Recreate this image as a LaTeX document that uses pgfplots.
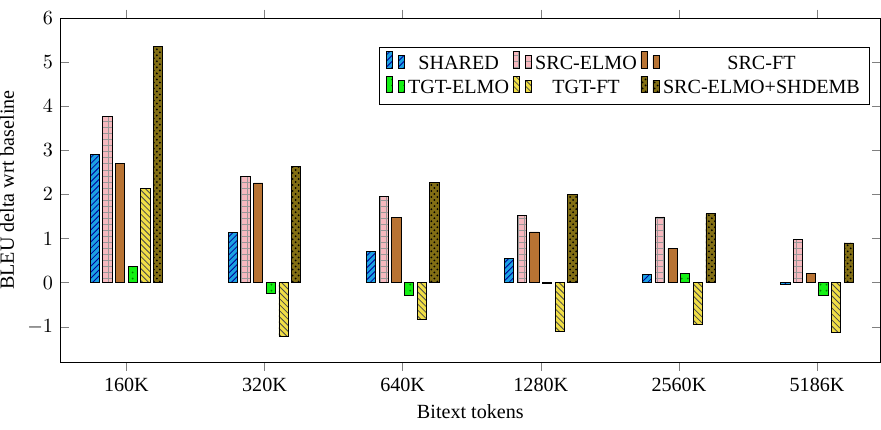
\documentclass[border=0pt]{standalone}
\usepackage{pgfplots}
\pgfplotsset{compat=1.18}
\usetikzlibrary{patterns}
\usepackage{fontspec}
\setmainfont{Liberation Serif}

\definecolor{cshared}{RGB}{27,161,226}
\definecolor{csrcelmo}{RGB}{246,184,190}
\definecolor{csrcft}{RGB}{184,115,51}
\definecolor{ctgtelmo}{RGB}{20,240,20}
\definecolor{ctgtft}{RGB}{240,222,70}
\definecolor{cshd}{RGB}{130,110,20}

\begin{document}
\begin{tikzpicture}
\begin{axis}[
  name=ax,
  scale only axis,
  width=408pt, height=171pt,
  ybar=1.7pt, bar width=4.6pt,
  xmin=-0.48, xmax=5.46,
  ymin=-1.8, ymax=6,
  xtick=data,
  xticklabels={160K,320K,640K,1280K,2560K,5186K},
  ytick={-1,0,1,2,3,4,5,6},
  xlabel={Bitext tokens},
  ylabel={BLEU delta wrt baseline},
  ylabel style={inner ysep=0pt},
  ylabel shift=3pt,
  xtick align=outside,
  legend columns=3,
  legend cell align=center,
  legend style={at={(0.987,0.916)}, anchor=north east,
    nodes={inner xsep=1.8pt},
    /tikz/every even column/.append style={column sep=0pt}},
]
\addplot[draw=black, fill=cshared, postaction={pattern=north east lines, pattern color=blue!60!black}]
  coordinates {(0,2.91) (1,1.13) (2,0.70) (3,0.54) (4,0.18) (5,-0.03)};
\addplot[draw=black, fill=csrcelmo, postaction={pattern=grid, pattern color=black!40}]
  coordinates {(0,3.77) (1,2.41) (2,1.96) (3,1.53) (4,1.49) (5,0.97)};
\addplot[draw=black, fill=csrcft]
  coordinates {(0,2.71) (1,2.26) (2,1.47) (3,1.15) (4,0.77) (5,0.20)};
\addplot[draw=black, fill=ctgtelmo, postaction={pattern=dots, pattern color=green!50!black}]
  coordinates {(0,0.36) (1,-0.25) (2,-0.30) (3,-0.02) (4,0.20) (5,-0.30)};
\addplot[draw=black, fill=ctgtft, postaction={pattern=north west lines, pattern color=black!70}]
  coordinates {(0,2.14) (1,-1.22) (2,-0.83) (3,-1.10) (4,-0.95) (5,-1.13)};
\addplot[draw=black, fill=cshd, postaction={pattern=crosshatch dots, pattern color=black}]
  coordinates {(0,5.35) (1,2.64) (2,2.28) (3,2.01) (4,1.56) (5,0.90)};
\legend{SHARED,SRC-ELMO,SRC-FT,TGT-ELMO,TGT-FT,SRC-ELMO+SHDEMB}
\end{axis}
% white margin above and below the axis
\path (ax.north west) ++(0,9pt);
\path (ax.south west) ++(0,-33.5pt);
\end{tikzpicture}
\end{document}
